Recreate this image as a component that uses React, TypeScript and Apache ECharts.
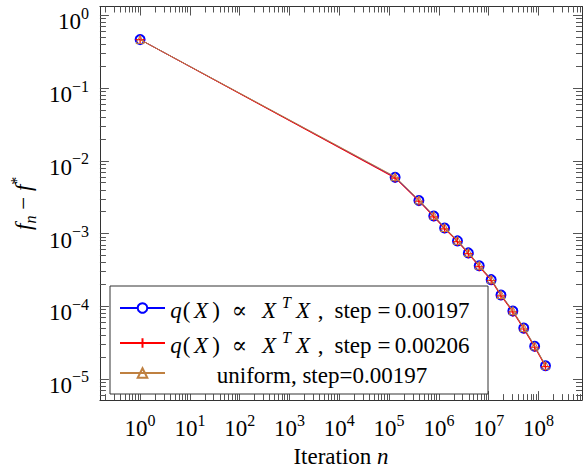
import React, { useEffect, useRef } from 'react';
import * as echarts from 'echarts';

// ---- data ----
const iterations = [1, 1.32e5, 3.96e5, 7.87e5, 1.3e6, 2.36e6, 3.9e6, 6.44e6, 1.12e7, 1.76e7, 3.05e7, 5.05e7, 8.36e7, 1.38e8];
const gapBlue = [0.465, 5.93e-3, 2.84e-3, 1.74e-3, 1.19e-3, 7.92e-4, 5.41e-4, 3.6e-4, 2.32e-4, 1.43e-4, 8.58e-5, 5.0e-5, 2.81e-5, 1.52e-5];
const gapRed = [0.465, 5.8e-3, 2.78e-3, 1.7e-3, 1.16e-3, 7.75e-4, 5.28e-4, 3.5e-4, 2.26e-4, 1.39e-4, 8.35e-5, 4.86e-5, 2.73e-5, 1.48e-5];
const gapBrown = [0.465, 6.05e-3, 2.9e-3, 1.78e-3, 1.21e-3, 8.05e-4, 5.5e-4, 3.66e-4, 2.36e-4, 1.45e-4, 8.7e-5, 5.08e-5, 2.85e-5, 1.54e-5];
const seriesNames = ['q(X) ∝ X^T X, step=0.00197', 'q(X) ∝ X^T X, step=0.00206', 'uniform, step=0.00197'];
const xDecades = [0, 1, 2, 3, 4, 5, 6, 7, 8];
const yDecades = [0, -1, -2, -3, -4, -5];

const FONT = '"Liberation Serif", "DejaVu Serif", serif';
const X_MIN = -0.807;
const X_MAX = 8.873;
const Y_MIN = -5.291;
const Y_MAX = 0.1227;

const lg = (v: number) => Math.log10(v);

function minorTicks(lo: number, hi: number): number[] {
  const out: number[] = [];
  for (let k = Math.floor(lo) - 1; k <= Math.ceil(hi); k++) {
    for (let j = 2; j <= 9; j++) {
      const v = k + Math.log10(j);
      if (v > lo && v < hi) out.push(v);
    }
  }
  return out;
}

const expText = (v: number) => {
  const n = Math.round(v);
  return n < 0 ? '−' + Math.abs(n) : String(n);
};

const tickRich = {
  b: { fontFamily: FONT, fontSize: 23, lineHeight: 28, verticalAlign: 'bottom', color: '#000' },
  s: { fontFamily: FONT, fontSize: 16, lineHeight: 18, verticalAlign: 'top', color: '#000' },
};

type Tok = { t: string; it?: boolean; sup?: boolean; w: number; align?: string };
const legendRows: Tok[][] = [
  [
    { t: 'q', it: true, w: 12 }, { t: '(', w: 9 }, { t: 'X', it: true, w: 20 }, { t: ')', w: 10 },
    { t: '∝', w: 37 }, { t: 'X', it: true, w: 22 }, { t: 'T', it: true, sup: true, w: 13 },
    { t: 'X', it: true, w: 20 }, { t: ',', w: 15, align: 'left' }, { t: 'step', w: 50 },
    { t: '=', w: 12 }, { t: '0.00197', w: 84 },
  ],
  [
    { t: 'q', it: true, w: 12 }, { t: '(', w: 9 }, { t: 'X', it: true, w: 20 }, { t: ')', w: 10 },
    { t: '∝', w: 37 }, { t: 'X', it: true, w: 22 }, { t: 'T', it: true, sup: true, w: 13 },
    { t: 'X', it: true, w: 20 }, { t: ',', w: 15, align: 'left' }, { t: 'step', w: 50 },
    { t: '=', w: 12 }, { t: '0.00206', w: 84 },
  ],
  [{ t: 'uniform, step=0.00197', w: 304 }],
];

const legendStyles: Record<string, any> = {};
const legendStrings: Record<string, string> = {};
legendRows.forEach((row, r) => {
  legendStrings[seriesNames[r]] = row
    .map((tok, i) => {
      const key = `r${r}t${i}`;
      legendStyles[key] = {
        fontFamily: FONT,
        fontSize: tok.sup ? 16 : 23,
        fontStyle: tok.it ? 'italic' : 'normal',
        lineHeight: tok.sup ? 18 : 28,
        verticalAlign: tok.sup ? 'top' : 'bottom',
        width: tok.w,
        align: tok.align || 'center',
        color: '#000',
      };
      return `{${key}|${tok.t}}`;
    })
    .join('');
});

const frameLine = { show: true, onZero: false, lineStyle: { color: '#333', width: 1 } };
const noLine = { show: false, onZero: false };
const tickStyle = { color: '#555', width: 1 };

function xAxis(pos: string, ticks: number[], len: number, line: boolean, labels: boolean, extra: any = {}) {
  return {
    type: 'value',
    position: pos,
    min: X_MIN,
    max: X_MAX,
    axisLine: line ? frameLine : noLine,
    axisTick: { show: true, inside: true, length: len, customValues: ticks, lineStyle: tickStyle },
    axisLabel: labels
      ? { show: true, customValues: xDecades, margin: 12, formatter: (v: number) => `{b|10}{s|${expText(v)}}`, rich: tickRich }
      : { show: false },
    splitLine: { show: false },
    ...extra,
  };
}

function yAxis(pos: string, ticks: number[], len: number, line: boolean, labels: boolean, extra: any = {}) {
  return {
    type: 'value',
    position: pos,
    min: Y_MIN,
    max: Y_MAX,
    axisLine: line ? frameLine : noLine,
    axisTick: { show: true, inside: true, length: len, customValues: ticks, lineStyle: tickStyle },
    axisLabel: labels
      ? {
          show: true,
          customValues: yDecades,
          margin: 11,
          padding: [8, 0, 0, 0],
          formatter: (v: number) => `{b|10}{s|${expText(v)}}`,
          rich: tickRich,
        }
      : { show: false },
    splitLine: { show: false },
    ...extra,
  };
}

export default function App() {
  const ref = useRef<HTMLDivElement>(null);
  useEffect(() => {
    if (!ref.current) return;
    const chart = echarts.init(ref.current, null, { renderer: 'svg' });
    const xMinor = minorTicks(X_MIN, X_MAX);
    const yMinor = minorTicks(Y_MIN, Y_MAX);
    const mk = (vals: number[]) => iterations.map((x, i) => [lg(x), lg(vals[i])]);
    chart.setOption({
      animation: false,
      backgroundColor: '#fff',
      grid: { left: 94.5, top: 6.5, right: 1, bottom: 60.5, containLabel: false },
      xAxis: [
        xAxis('bottom', xDecades, 9, true, true, {
          name: '{rm|Iteration }{it|n}',
          nameLocation: 'middle',
          nameGap: 40,
          nameTextStyle: {
            rich: {
              rm: { fontFamily: FONT, fontSize: 23, lineHeight: 26, color: '#000' },
              it: { fontFamily: FONT, fontSize: 23, fontStyle: 'italic', lineHeight: 26, color: '#000' },
            },
          },
        }),
        xAxis('bottom', xMinor, 6, false, false),
        xAxis('top', xDecades, 9, true, false),
        xAxis('top', xMinor, 6, false, false),
      ],
      yAxis: [
        yAxis('left', yDecades, 9, true, true, {
          name: '{i|f}{sub|n}{m| − }{i|f}{sup|*}',
          nameLocation: 'middle',
          nameRotate: 90,
          nameGap: 50,
          nameTextStyle: {
            rich: {
              i: { fontFamily: FONT, fontSize: 23, fontStyle: 'italic', lineHeight: 30, verticalAlign: 'middle', color: '#000' },
              m: { fontFamily: FONT, fontSize: 23, lineHeight: 30, verticalAlign: 'middle', color: '#000' },
              sub: { fontFamily: FONT, fontSize: 16, fontStyle: 'italic', lineHeight: 18, verticalAlign: 'bottom', color: '#000' },
              sup: { fontFamily: FONT, fontSize: 16, lineHeight: 18, verticalAlign: 'top', color: '#000' },
            },
          },
        }),
        yAxis('left', yMinor, 6, false, false),
        yAxis('right', yDecades, 9, true, false),
        yAxis('right', yMinor, 6, false, false),
      ],
      legend: {
        show: true,
        orient: 'vertical',
        left: 110,
        top: 286,
        padding: [8, 14, 7, 9],
        itemGap: 7,
        itemWidth: 45,
        itemHeight: 12,
        borderColor: '#333',
        borderWidth: 1,
        backgroundColor: '#fff',
        selectedMode: false,
        data: seriesNames,
        formatter: (name: string) => legendStrings[name],
        textStyle: { fontFamily: FONT, fontSize: 23, color: '#000', rich: legendStyles },
      },
      series: [
        {
          type: 'line',
          name: seriesNames[0],
          data: mk(gapBlue),
          symbol: 'emptyCircle',
          symbolSize: 9,
          lineStyle: { color: '#0000ff', width: 1 },
          itemStyle: { color: '#0000ff', borderColor: '#0000ff', borderWidth: 1 },
          z: 2,
        },
        {
          type: 'line',
          name: seriesNames[1],
          data: mk(gapRed),
          symbol: 'path://M5 0L5 10M0 5L10 5',
          symbolSize: 9,
          lineStyle: { color: '#ff0000', width: 1 },
          itemStyle: { color: '#ff0000', borderColor: '#ff0000', borderWidth: 1.2 },
          z: 3,
        },
        {
          type: 'line',
          name: seriesNames[2],
          data: mk(gapBrown),
          symbol: 'triangle',
          symbolSize: 8,
          lineStyle: { color: '#bf8040', width: 1 },
          itemStyle: { color: 'rgba(255,255,255,0)', borderColor: '#bf8040', borderWidth: 1 },
          z: 4,
        },
      ],
    });
    return () => chart.dispose();
  }, []);
  return <div ref={ref} style={{ position: 'absolute', left: 0, top: 0, width: 583, height: 473 }} />;
}
